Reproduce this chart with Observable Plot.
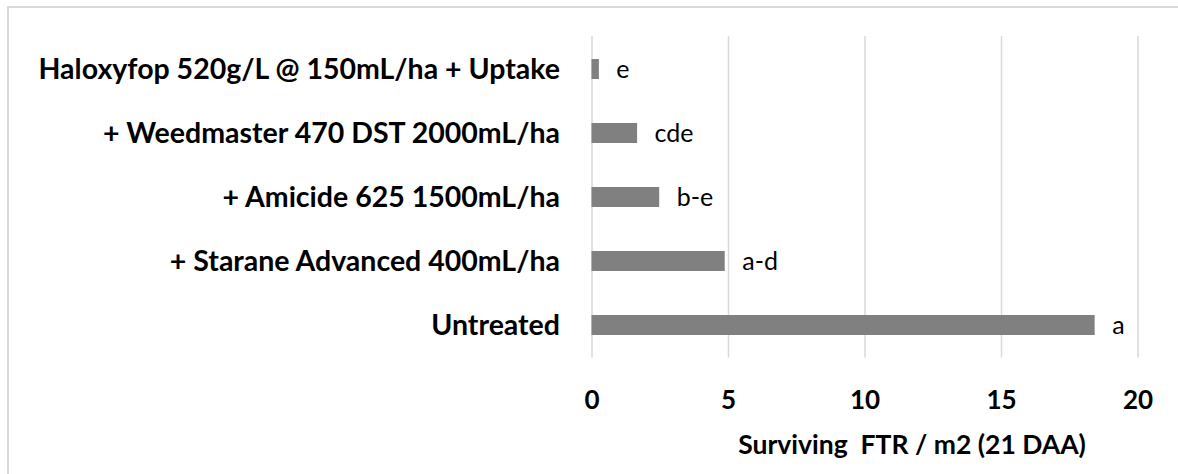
<!DOCTYPE html>
<html>
<head>
<meta charset="utf-8">
<script src="https://cdn.jsdelivr.net/npm/d3@7"></script>
<script src="https://cdn.jsdelivr.net/npm/@observablehq/plot@0.6"></script>
<style>
  html, body { margin: 0; padding: 0; background: #fff; }
  #wrap { position: relative; width: 1178px; height: 474px; overflow: hidden; }
  #wrap::before { content: ""; position: absolute; left: 7px; top: 6px; right: -10px; bottom: -10px;
    border-top: 2px solid #d9d9d9; border-left: 2px solid #d9d9d9; pointer-events: none; }
  svg text { white-space: pre; }
</style>
</head>
<body>
<div id="wrap"></div>
<script>
const categories = [
  "Haloxyfop 520g/L @ 150mL/ha + Uptake",
  "+ Weedmaster 470 DST 2000mL/ha",
  "+ Amicide 625 1500mL/ha",
  "+ Starane Advanced 400mL/ha",
  "Untreated"
];
const values = [0.27, 1.67, 2.48, 4.88, 18.43];
const letters = ["e", "cde", "b-e", "a-d", "a"];
const xTicks = [0, 5, 10, 15, 20];
const xTitle = "Surviving  FTR / m2 (21 DAA)";

const data = categories.map((c, i) => ({cat: c, value: values[i], letter: letters[i]}));

const chart = Plot.plot({
  width: 1178,
  height: 474,
  marginLeft: 591.5,
  marginRight: 40.5,
  marginTop: 36,
  marginBottom: 116.5,
  style: {fontFamily: "Lato", color: "#000", background: "transparent"},
  x: {domain: [0, 20], ticks: xTicks},
  y: {domain: categories, paddingInner: 0.69, paddingOuter: 0.34},
  marks: [
    Plot.gridX(xTicks, {stroke: "#d9d9d9", strokeOpacity: 1, strokeWidth: 1.5}),
    Plot.barX(data, {x: "value", y: "cat", fill: "#808080"}),
    Plot.text(data, {x: "value", y: "cat", text: "letter", textAnchor: "start", dx: 17, fontSize: 25, fill: "#000"}),
    Plot.axisX(xTicks, {tickSize: 0, tickPadding: 33, fontSize: 26, fontWeight: "bold", label: null, tickFormat: d => String(d)}),
    Plot.axisY({tickSize: 0, tickPadding: 32, fontSize: 28.5, fontWeight: "bold", label: null}),
    Plot.text([xTitle], {frameAnchor: "bottom", dx: 47, dy: 88, lineAnchor: "middle", fontSize: 26.5, fontWeight: "bold", fill: "#000"})
  ]
});
document.getElementById("wrap").appendChild(chart);
</script>
</body>
</html>
